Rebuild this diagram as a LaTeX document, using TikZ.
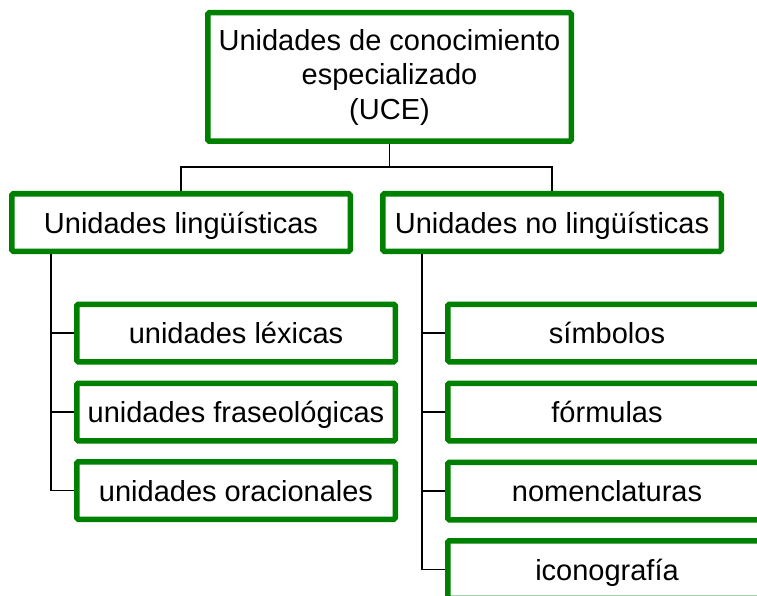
\documentclass[tikz,border=0pt]{standalone}
\usepackage{fontspec}
\setmainfont{Liberation Sans}
\usetikzlibrary{backgrounds}
\definecolor{boxgreen}{HTML}{008000}
\tikzset{
  gbox/.style={draw=boxgreen, line width=5.5pt, fill=white, rounded corners=1.5pt,
    inner sep=0pt, font=\fontsize{29}{34.5}\selectfont},
  onebox/.style={gbox, text height=21pt, text depth=0pt},
  wide/.style={onebox, minimum width=338.5pt, minimum height=57.5pt},
  child/.style={onebox, minimum width=318.5pt, minimum height=57.5pt},
  conn/.style={draw=black, line width=1.5pt}
}
\begin{document}
\begin{tikzpicture}[x=1pt,y=-1pt]
\useasboundingbox (0,0) rectangle (757,596);
\clip (0,0) rectangle (757,596);
\node[gbox, minimum width=363.5pt, minimum height=128.5pt, align=center] (top) at (389.5,77)
  {Unidades de conocimiento\\especializado\\(UCE)};
\node[wide] (L) at (181,222.5) {Unidades lingüísticas};
\node[wide] (R) at (552,222.5) {Unidades no lingüísticas};
\node[child] (l1) at (236,333) {unidades léxicas};
\node[child] (l2) at (236,412) {unidades fraseológicas};
\node[child] (l3) at (236,490.5) {unidades oracionales};
\node[child] (r1) at (607,333) {símbolos};
\node[child] (r2) at (607,412) {fórmulas};
\node[child] (r3) at (607,491) {nomenclaturas};
\node[child] (r4) at (607,569.5) {iconografía};
\coordinate (lv) at (51,251);
\coordinate (rv) at (422,251);
\begin{pgfonlayer}{background}
\draw[conn] (top.south) -- ++(0,23) -| (L.north);
\draw[conn] (top.south) -- ++(0,23) -| (R.north);
\draw[conn] (lv) |- (l1.west);
\draw[conn] (lv) |- (l2.west);
\draw[conn] (lv) |- (l3.west);
\draw[conn] (rv) |- (r1.west);
\draw[conn] (rv) |- (r2.west);
\draw[conn] (rv) |- (r3.west);
\draw[conn] (rv) |- (r4.west);
\end{pgfonlayer}
\end{tikzpicture}
\end{document}
